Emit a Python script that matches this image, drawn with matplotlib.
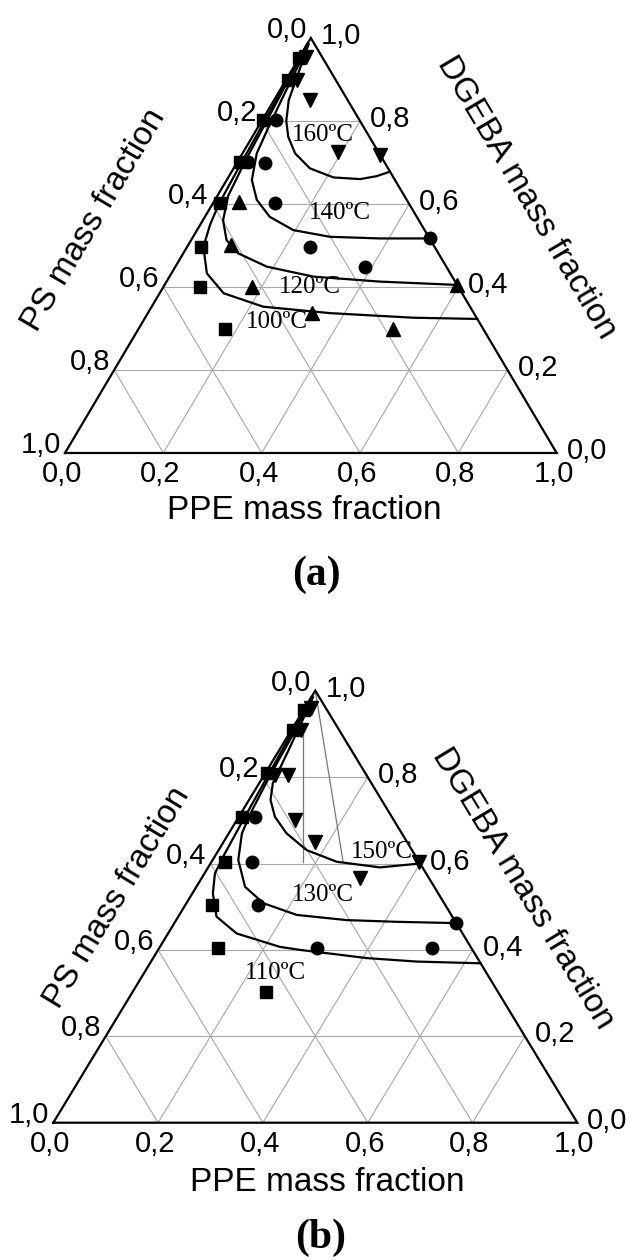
import numpy as np
import matplotlib
matplotlib.use('Agg')
import matplotlib.pyplot as plt

# ternary data, every point given as (PPE, DGEBA); PS = 1 - PPE - DGEBA

# panel (a)
a_curve_160 = [(0.003, 0.985), (0.01, 0.95), (0.02, 0.90), (0.03, 0.85), (0.05, 0.80), (0.073, 0.762),
               (0.107, 0.722), (0.155, 0.686), (0.214, 0.664), (0.27, 0.66), (0.30, 0.667), (0.322, 0.678)]
a_curve_140 = [(0.002, 0.985), (0.008, 0.93), (0.015, 0.85), (0.022, 0.78), (0.029, 0.722), (0.051, 0.658),
               (0.085, 0.61), (0.132, 0.569), (0.196, 0.537), (0.278, 0.521), (0.382, 0.517), (0.483, 0.517)]
a_curve_120 = [(0.0, 0.985), (0.005, 0.9), (0.01, 0.8), (0.015, 0.7), (0.022, 0.62), (0.041, 0.561),
               (0.072, 0.513), (0.112, 0.481), (0.186, 0.449), (0.293, 0.425), (0.434, 0.413), (0.595, 0.405)]
a_curve_100 = [(0.0, 0.985), (0.003, 0.9), (0.006, 0.8), (0.009, 0.7), (0.013, 0.6), (0.02, 0.55),
               (0.033, 0.497), (0.072, 0.433), (0.13, 0.385), (0.227, 0.3525), (0.371, 0.337),
               (0.545, 0.326), (0.677, 0.323)]
a_curves = [a_curve_160, a_curve_140, a_curve_120, a_curve_100]
a_curve_names = ['160ºC', '140ºC', '120ºC', '100ºC']
a_name_pos = [(0.525, 0.766), (0.559, 0.578), (0.498, 0.401), (0.43, 0.316)]  # axes coords

a_squares = [(0.0, 0.951), (0.005, 0.899), (0.002, 0.802), (0.005, 0.702), (0.014, 0.602),
             (0.029, 0.497), (0.074, 0.401), (0.175, 0.300)]
a_circles = [(0.029, 0.802), (0.022, 0.702), (0.058, 0.698), (0.126, 0.602), (0.250, 0.497),
             (0.386, 0.449), (0.483, 0.517)]
a_tri_up = [(0.050, 0.606), (0.088, 0.501), (0.179, 0.401), (0.333, 0.337), (0.518, 0.300), (0.595, 0.405)]
a_tri_down = [(0.012, 0.955), (0.022, 0.90), (0.073, 0.851), (0.193, 0.726), (0.282, 0.718)]

# panel (b)
b_curve_150 = [(0.003, 0.985), (0.01, 0.93), (0.018, 0.86), (0.026, 0.786), (0.041, 0.747), (0.069, 0.708),
               (0.110, 0.670), (0.168, 0.631), (0.239, 0.604), (0.328, 0.591), (0.40, 0.60)]
b_curve_130 = [(0.002, 0.985), (0.008, 0.9), (0.012, 0.8), (0.018, 0.72), (0.025, 0.670), (0.049, 0.608),
               (0.093, 0.546), (0.147, 0.508), (0.224, 0.481), (0.325, 0.469), (0.423, 0.465), (0.538, 0.462)]
b_curve_110 = [(0.0, 0.985), (0.004, 0.9), (0.008, 0.8), (0.012, 0.7), (0.016, 0.62), (0.020, 0.577),
               (0.039, 0.531), (0.073, 0.477), (0.131, 0.438), (0.229, 0.407), (0.271, 0.400),
               (0.408, 0.381), (0.507, 0.373), (0.631, 0.369)]
b_curves = [b_curve_150, b_curve_130, b_curve_110]
b_curve_names = ['150ºC', '130ºC', '110ºC']
b_name_pos = [(0.627, 0.627), (0.515, 0.527), (0.423, 0.346)]

b_squares = [(0.0, 0.955), (0.002, 0.91), (0.003, 0.809), (0.006, 0.708), (0.026, 0.604),
             (0.050, 0.504), (0.113, 0.404), (0.255, 0.303)]
b_circles = [(0.031, 0.708), (0.077, 0.604), (0.139, 0.504), (0.301, 0.404), (0.520, 0.404), (0.538, 0.462)]
b_tri_down = [(0.012, 0.96), (0.018, 0.91), (0.02, 0.805), (0.046, 0.805), (0.111, 0.701),
              (0.174, 0.650), (0.302, 0.566), (0.396, 0.604)]
b_tie_lines = [[(0.017, 0.92), (0.175, 0.604)], [(0.0, 1.0), (0.251, 0.604)]]

ticks = [0.0, 0.2, 0.4, 0.6, 0.8, 1.0]
tick_labels = ['0,0', '0,2', '0,4', '0,6', '0,8', '1,0']

W, H = 633, 1260
fig = plt.figure(figsize=(W / 100, H / 100), dpi=100)

sans = 'Liberation Sans'
serif = 'Liberation Serif'


def tern(pts):
    p = np.array([q[0] for q in pts])
    d = np.array([q[1] for q in pts])
    return p + d / 2, d


def draw_panel(box, curves, names, name_pos, markers, ties, letter, ps_off, dg_off, ppe_y, letter_y, letter_x):
    l, t, r, b = box
    wpx, hpx = r - l, b - t
    ax = fig.add_axes([l / W, (H - b) / H, wpx / W, hpx / H])
    ax.set_xlim(0, 1)
    ax.set_ylim(0, 1)
    ax.axis('off')

    # grid
    g = dict(color='#a8a8a8', lw=0.8, zorder=1)
    for v in ticks[1:-1]:
        x, y = tern([(0, v), (1 - v, v)])
        ax.plot(x, y, **g)
        x, y = tern([(v, 0), (v, 1 - v)])
        ax.plot(x, y, **g)
        x, y = tern([(1 - v, 0), (0, 1 - v)])
        ax.plot(x, y, **g)
    for tl in ties:
        x, y = tern(tl)
        ax.plot(x, y, color='#777777', lw=0.9, zorder=1)

    # frame
    x, y = tern([(0, 0), (1, 0), (0, 1), (0, 0)])
    ax.plot(x, y, color='black', lw=1.6, clip_on=False, zorder=3, solid_joinstyle='miter')

    for c in curves:
        x, y = tern(c)
        ax.plot(x, y, color='black', lw=1.6, clip_on=False, zorder=4)
    for nm, (xx, yy) in zip(names, name_pos):
        ax.text(xx, yy, nm, family=serif, fontsize=18, ha='center', va='center', zorder=5)

    for pts, mk, ms in markers:
        x, y = tern(pts)
        ax.plot(x, y, mk, color='black', ms=ms, clip_on=False, zorder=6)

    fs = 21
    for v, s in zip(ticks, tick_labels):
        # bottom: PPE
        ax.annotate(s, (v, 0), xytext=(-3, -21), textcoords='offset pixels',
                    ha='center', va='center', family=sans, fontsize=fs)
        # left: PS
        d = 1 - v
        ax.annotate(s, (d / 2, d), xytext=(-4, 8), textcoords='offset pixels',
                    ha='right', va='center', family=sans, fontsize=fs)
        # right: DGEBA
        ax.annotate(s, (1 - v / 2, v), xytext=(10, 2), textcoords='offset pixels',
                    ha='left', va='center', family=sans, fontsize=fs)

    ang = np.degrees(np.arctan2(hpx, wpx / 2))
    nl = np.array([-np.sin(np.radians(ang)), np.cos(np.radians(ang))])
    tp, dist = ps_off
    ax.annotate('PS mass fraction', (tp / 2, tp), xytext=tuple(nl * dist), textcoords='offset pixels',
                rotation=ang, ha='center', va='center', family=sans, fontsize=24, rotation_mode='anchor')
    nr = np.array([np.sin(np.radians(ang)), np.cos(np.radians(ang))])
    tp, dist = dg_off
    ax.annotate('DGEBA mass fraction', (1 - tp / 2, tp), xytext=tuple(nr * dist), textcoords='offset pixels',
                rotation=-ang, ha='center', va='center', family=sans, fontsize=24, rotation_mode='anchor')
    ax.annotate('PPE mass fraction', (ppe_y[0], 0), xytext=(0, ppe_y[1]), textcoords='offset pixels',
                ha='center', va='center', family=sans, fontsize=24)
    ax.annotate(letter, (letter_x, 0), xytext=(0, letter_y), textcoords='offset pixels',
                ha='center', va='center', family=serif, fontsize=30, fontweight='bold')


draw_panel((65, 38, 556.7, 453), a_curves, a_curve_names, a_name_pos,
           [(a_squares, 's', 8.5), (a_circles, 'o', 9), (a_tri_up, '^', 9.5), (a_tri_down, 'v', 9.5)],
           [], '(a)', (0.446, 94), (0.487, 104), (0.487, -57), -122, 0.512)
draw_panel((53.3, 690.7, 577.3, 1122.7), b_curves, b_curve_names, b_name_pos,
           [(b_squares, 's', 8.5), (b_circles, 'o', 9), (b_tri_down, 'v', 9.5)],
           b_tie_lines, '(b)', (0.447, 62), (0.452, 75), (0.522, -60), -115, 0.511)

fig.savefig('out.png', dpi=100)
